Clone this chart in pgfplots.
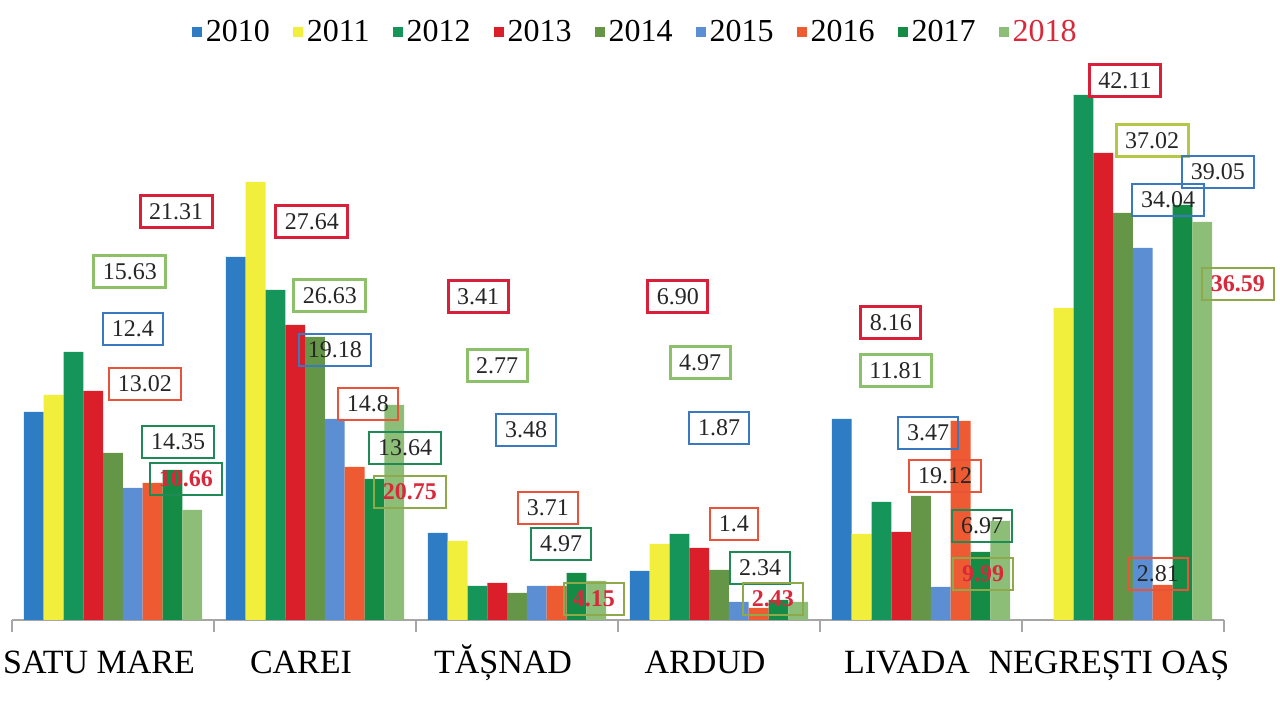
\documentclass[border=0pt]{standalone}
\usepackage{pgfplots}
\pgfplotsset{compat=1.18}
\usepackage{fontspec}
\setmainfont{Liberation Serif}
\definecolor{c10}{HTML}{2E7CC4}
\definecolor{c11}{HTML}{F2EE3C}
\definecolor{c12}{HTML}{16955A}
\definecolor{c13}{HTML}{DA1F2A}
\definecolor{c14}{HTML}{659648}
\definecolor{c15}{HTML}{5B8ED2}
\definecolor{c16}{HTML}{EE5A32}
\definecolor{c17}{HTML}{158C46}
\definecolor{c18}{HTML}{8CBE78}
\definecolor{labred}{HTML}{D8203A}
\definecolor{labgreen}{HTML}{8DC06A}
\definecolor{labyg}{HTML}{B5C845}
\definecolor{labblue}{HTML}{3A78C0}
\definecolor{laborange}{HTML}{E8533A}
\definecolor{labdark}{HTML}{1F8A55}
\definecolor{labolive}{HTML}{8FA84A}
\definecolor{redtext}{HTML}{D8283A}
\begin{document}
\begin{tikzpicture}[
  lab/.style={inner xsep=4.5pt, inner ysep=0pt, minimum height=16pt, font=\fontsize{12}{14}\selectfont, text=black!85},
  labR/.style={lab, draw=labred, line width=1.5pt},
  labG/.style={lab, draw=labgreen, line width=1.5pt},
  labY/.style={lab, draw=labyg, line width=1.5pt},
  labB/.style={lab, draw=labblue, line width=0.6pt},
  labO/.style={lab, draw=laborange, line width=0.6pt},
  labD/.style={lab, draw=labdark, line width=0.6pt},
  labX/.style={lab, draw=labolive, line width=0.6pt, text=redtext, font=\fontsize{12}{14}\selectfont\bfseries},
]
\begin{axis}[
  x=101pt, y=5pt,
  xmin=-0.5, xmax=5.5, ymin=0, ymax=62,
  axis y line=none,
  axis x line*=bottom,
  x axis line style={-, draw=gray!70, line width=0.8pt},
  ybar=0pt, bar width=9.9pt,
  xtick={0,...,5},
  xticklabels={SATU MARE, CAREI, TĂȘNAD, ARDUD, LIVADA, NEGREȘTI OAȘ},
  major x tick style={draw=none},
  minor xtick={-0.5,0.5,...,5.5},
  minor x tick style={draw=gray!70, line width=0.8pt},
  minor tick length=6pt,
  tick align=outside,
  xticklabel style={font=\fontsize{17}{20}\selectfont, text height=13pt, text depth=4pt, yshift=-6pt, xshift=-7pt},
  clip=false,
  legend columns=9,
  legend style={at={(axis cs:2.59,58.8)}, anchor=center, draw=none, fill=none,
    font=\fontsize{16}{18}\selectfont,
    /tikz/every even column/.append style={column sep=9.5pt}},
  legend image code/.code={\fill[#1] (0pt,-2.5pt) rectangle (5pt,2.5pt);},
]
\addplot[fill=c10, draw=none] coordinates {(0,20.8) (1,36.3) (2,8.7) (3,4.9) (4,20.1)};
\addplot[fill=c11, draw=none] coordinates {(0,22.5) (1,43.8) (2,7.9) (3,7.6) (4,8.6) (5,31.2)};
\addplot[fill=c12, draw=none] coordinates {(0,26.8) (1,33.0) (2,3.4) (3,8.6) (4,11.8) (5,52.5)};
\addplot[fill=c13, draw=none] coordinates {(0,22.9) (1,29.5) (2,3.7) (3,7.2) (4,8.8) (5,46.7)};
\addplot[fill=c14, draw=none] coordinates {(0,16.7) (1,28.3) (2,2.7) (3,5.0) (4,12.4) (5,40.7)};
\addplot[fill=c15, draw=none] coordinates {(0,13.2) (1,20.1) (2,3.4) (3,1.8) (4,3.3) (5,37.2)};
\addplot[fill=c16, draw=none] coordinates {(0,13.7) (1,15.3) (2,3.4) (3,1.2) (4,19.9) (5,3.5)};
\addplot[fill=c17, draw=none] coordinates {(0,15.0) (1,14.1) (2,4.7) (3,2.0) (4,6.8) (5,41.5)};
\addplot[fill=c18, draw=none] coordinates {(0,11.0) (1,21.5) (2,3.9) (3,1.8) (4,9.9) (5,39.8)};
\legend{2010,2011,2012,2013,2014,2015,2016,2017,\textcolor{redtext}{2018}}
\coordinate (O) at (axis cs:-0.5,0);
% value labels
\node[labR] at (axis cs:0.312,40.8) {21.31};
\node[labG] at (axis cs:0.084,34.8) {15.63};
\node[labB] at (axis cs:0.099,29.1) {12.4};
\node[labO] at (axis cs:0.158,23.6) {13.02};
\node[labD] at (axis cs:0.322,17.8) {14.35};
\node[labX, draw=labdark] at (axis cs:0.361,14.1) {10.66};
\node[labR] at (axis cs:0.985,39.8) {27.64};
\node[labG] at (axis cs:1.074,32.4) {26.63};
\node[labB] at (axis cs:1.099,27.0) {19.18};
\node[labO] at (axis cs:1.262,21.6) {14.8};
\node[labD] at (axis cs:1.446,17.2) {13.64};
\node[labX] at (axis cs:1.470,12.8) {20.75};
\node[labR] at (axis cs:1.807,32.3) {3.41};
\node[labG] at (axis cs:1.901,25.4) {2.77};
\node[labB] at (axis cs:2.045,19.0) {3.48};
\node[labO] at (axis cs:2.153,11.2) {3.71};
\node[labD] at (axis cs:2.218,7.6) {4.97};
\node[labX] at (axis cs:2.381,2.1) {4.15};
\node[labR] at (axis cs:2.797,32.3) {6.90};
\node[labG] at (axis cs:2.906,25.7) {4.97};
\node[labB] at (axis cs:3.000,19.2) {1.87};
\node[labO] at (axis cs:3.074,9.6) {1.4};
\node[labD] at (axis cs:3.203,5.2) {2.34};
\node[labX] at (axis cs:3.267,2.1) {2.43};
\node[labR] at (axis cs:3.851,29.7) {8.16};
\node[labG] at (axis cs:3.876,24.9) {11.81};
\node[labB] at (axis cs:4.035,18.7) {3.47};
\node[labO] at (axis cs:4.119,14.4) {19.12};
\node[labD] at (axis cs:4.302,9.4) {6.97};
\node[labX] at (axis cs:4.307,4.6) {9.99};
\node[labR] at (axis cs:5.010,53.9) {42.11};
\node[labY] at (axis cs:5.144,47.9) {37.02};
\node[labB] at (axis cs:5.470,44.8) {39.05};
\node[labB] at (axis cs:5.223,42.0) {34.04};
\node[labX] at (axis cs:5.569,33.6) {36.59};
\node[labO] at (axis cs:5.173,4.6) {2.81};
\end{axis}
\pgfresetboundingbox
\path (O) ++(-6pt,-49pt) rectangle ++(641pt,359pt);
\end{tikzpicture}
\end{document}
